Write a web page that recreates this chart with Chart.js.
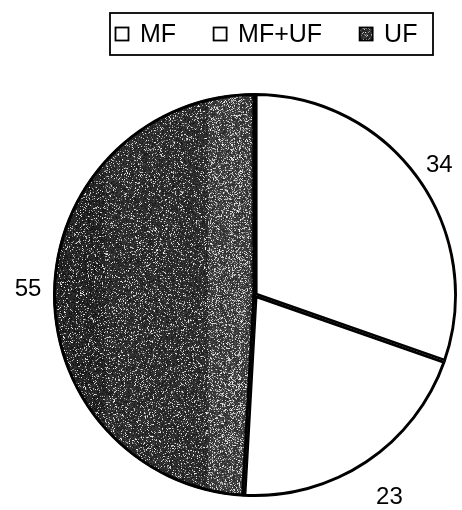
<!DOCTYPE html>
<html>
<head>
<meta charset="utf-8">
<script src="https://cdn.jsdelivr.net/npm/chart.js@4/dist/chart.umd.min.js"></script>
<style>
  html, body { margin: 0; padding: 0; background: #fff; }
  #wrap { width: 462px; height: 510px; }
</style>
</head>
<body>
<div id="wrap"><canvas id="c" width="462" height="510"></canvas></div>
<script>
// Shares by treatment group
const categories = ['MF', 'MF+UF', 'UF'];
const shares = [34, 23, 55];

const FONT = '"Liberation Sans", Arial, sans-serif';

// Deterministic hash for a grainy stipple texture
function hash(x, y) {
  let h = (x * 374761393 + y * 668265263) | 0;
  h = (h ^ (h >>> 13)) * 1274126177 | 0;
  h = h ^ (h >>> 16);
  return ((h >>> 0) % 10000) / 10000;
}

// Grainy dark fill with lighter vertical bands next to the slice's straight edge
let texCache = null;
function grainPattern(chart) {
  const area = chart.chartArea;
  const cx = area ? (area.left + area.right) / 2 : 255;
  const key = Math.round(cx);
  if (texCache && texCache.key === key) return texCache.pattern;
  const w = chart.width, h = chart.height;
  const cv = document.createElement('canvas');
  cv.width = w; cv.height = h;
  const g = cv.getContext('2d');
  const img = g.createImageData(w, h);
  for (let y = 0; y < h; y++) {
    for (let x = 0; x < w; x++) {
      const d = cx - x;
      let p = 0.15;               // bright speckle probability
      let base = 44;
      if (d > 4 && d < 48) { p = 0.26; base = 58; }
      if (d > 14 && d < 17) p = 0.45;
      if (d > 22 && d < 25) p = 0.40;
      if (d > 150 && d < 200) { p = 0.12; base = 36; }
      const r = hash(x, y);
      let v = base + (hash(y + 911, x + 37) - 0.5) * 40;
      if (r < p) v = 115 + hash(x * 3 + 5, y * 7 + 1) * 130;
      v = Math.max(0, Math.min(255, v));
      const i = (y * w + x) * 4;
      img.data[i] = img.data[i + 1] = img.data[i + 2] = v;
      img.data[i + 3] = 255;
    }
  }
  g.putImageData(img, 0, 0);
  const pattern = chart.ctx.createPattern(cv, 'no-repeat');
  texCache = { key, pattern };
  return pattern;
}

function sliceFill(ctx) {
  if (ctx.dataIndex === 2) return grainPattern(ctx.chart);
  return '#ffffff';
}

// Value labels outside the pie
const outsideLabels = {
  id: 'outsideLabels',
  afterDatasetsDraw(chart, args, opts) {
    const ctx = chart.ctx;
    const meta = chart.getDatasetMeta(0);
    ctx.save();
    ctx.fillStyle = '#000';
    ctx.font = opts.font;
    ctx.textAlign = 'center';
    ctx.textBaseline = 'middle';
    meta.data.forEach((arc, i) => {
      const { x, y, startAngle, endAngle, outerRadius } = arc.getProps(['x', 'y', 'startAngle', 'endAngle', 'outerRadius'], true);
      const mid = (startAngle + endAngle) / 2;
      const r = outerRadius + opts.gaps[i];
      ctx.fillText(String(chart.data.datasets[0].data[i]), x + Math.cos(mid) * r, y + Math.sin(mid) * r + 1);
    });
    ctx.restore();
  }
};

// Boxed legend across the top
const boxedLegend = {
  id: 'boxedLegend',
  afterDraw(chart, args, opts) {
    const ctx = chart.ctx;
    ctx.save();
    ctx.strokeStyle = '#000';
    ctx.lineWidth = 1.8;
    const b = opts.box;
    ctx.strokeRect(b.x, b.y, b.w, b.h);
    ctx.font = opts.font;
    ctx.textBaseline = 'middle';
    ctx.textAlign = 'left';
    const ds = chart.data.datasets[0];
    let x = opts.startX;
    const cy = b.y + b.h / 2;
    chart.data.labels.forEach((lab, i) => {
      const s = opts.swatch;
      const fill = typeof ds.backgroundColor === 'function'
        ? ds.backgroundColor({ chart, dataIndex: i }) : ds.backgroundColor[i];
      ctx.fillStyle = fill;
      ctx.fillRect(x, cy - s / 2, s, s);
      ctx.lineWidth = 1.8;
      ctx.strokeRect(x + 0.5, cy - s / 2 + 0.5, s - 1, s - 1);
      ctx.fillStyle = '#000';
      ctx.fillText(lab, x + s + opts.textGap, cy + 1);
      x += s + opts.textGap + ctx.measureText(lab).width + opts.itemGap;
    });
    ctx.restore();
  }
};

new Chart(document.getElementById('c'), {
  type: 'pie',
  data: {
    labels: categories,
    datasets: [{
      data: shares,
      backgroundColor: sliceFill,
      borderColor: '#000',
      borderWidth: 2.6,
      borderAlign: 'inner'
    }]
  },
  options: {
    responsive: false,
    animation: false,
    events: [],
    layout: { padding: { left: 53, right: 5, top: 93, bottom: 13 } },
    plugins: {
      legend: { display: false },
      tooltip: { enabled: false },
      outsideLabels: { font: '24px ' + FONT, gaps: [24, 40, 25] },
      boxedLegend: {
        font: '25px ' + FONT,
        box: { x: 110, y: 13, w: 323, h: 42 },
        startX: 115, swatch: 14, textGap: 11, itemGap: 37
      }
    }
  },
  plugins: [outsideLabels, boxedLegend]
});
</script>
</body>
</html>
